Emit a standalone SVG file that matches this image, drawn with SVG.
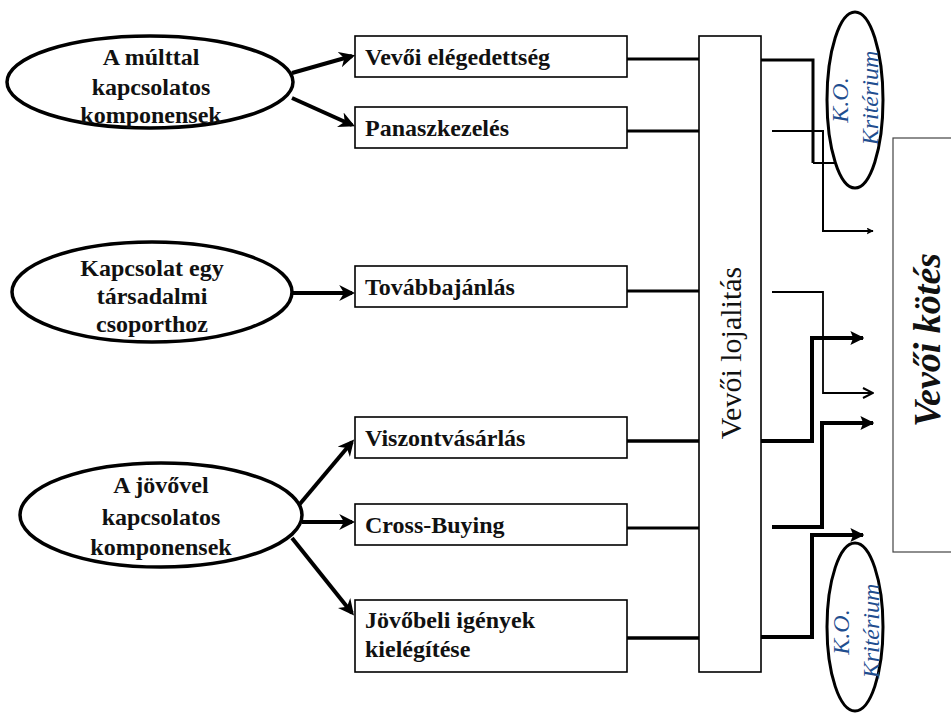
<svg xmlns="http://www.w3.org/2000/svg" width="951" height="716" viewBox="0 0 951 716">
  <style>
    .ell { fill: #fff; stroke: #000; stroke-width: 3.5; }
    .box { fill: #fff; stroke: #000; stroke-width: 1.6; }
    .serif { font-family: "Liberation Serif", "DejaVu Serif", serif; }
    .lbl { font-family: "Liberation Serif", "DejaVu Serif", serif; font-weight: bold; font-size: 24px; fill: #111; }
    .ctr { text-anchor: middle; }
    .ko { font-family: "Liberation Serif", "DejaVu Serif", serif; font-style: italic; font-size: 24px; fill: #1f4e8f; text-anchor: middle; }
    .link { fill: none; stroke: #000; stroke-linejoin: miter; }
  </style>
  <defs>
    <marker id="barb" viewBox="0 0 10 10" refX="8" refY="5" markerWidth="4" markerHeight="4" orient="auto" markerUnits="strokeWidth">
      <path d="M0,0 L10,5 L0,10 L3,5 z" fill="#000"/>
    </marker>
    <marker id="fill" viewBox="0 0 10 10" refX="9" refY="5" markerWidth="3.5" markerHeight="3.5" orient="auto" markerUnits="strokeWidth">
      <path d="M0,0 L10,5 L0,10 L2,5 z" fill="#000"/>
    </marker>
    <marker id="open" viewBox="0 0 12 12" refX="11" refY="6" markerWidth="12" markerHeight="12" orient="auto" markerUnits="userSpaceOnUse">
      <path d="M1,1 L11,6 L1,11" fill="none" stroke="#000" stroke-width="2"/>
    </marker>
  </defs>

  <!-- output block on the right -->
  <g id="vevoi-kotes">
    <rect x="893" y="138" width="80" height="414" fill="#fff" stroke="#444" stroke-width="1.2"/>
    <text class="serif" transform="translate(940,340) rotate(-90)" font-weight="bold" font-style="italic" font-size="38" text-anchor="middle" fill="#111">Vevői kötés</text>
  </g>

  <!-- connectors -->
  <g id="connectors">
    <!-- ellipses to component boxes -->
    <line class="link" stroke-width="4" x1="292" y1="73" x2="352" y2="56" marker-end="url(#barb)"/>
    <line class="link" stroke-width="4" x1="292" y1="98" x2="352" y2="125" marker-end="url(#barb)"/>
    <line class="link" stroke-width="4" x1="292" y1="293" x2="352" y2="293" marker-end="url(#barb)"/>
    <line class="link" stroke-width="4" x1="299" y1="505" x2="352" y2="442" marker-end="url(#barb)"/>
    <line class="link" stroke-width="4" x1="302" y1="522" x2="352" y2="522" marker-end="url(#barb)"/>
    <line class="link" stroke-width="4" x1="292" y1="538" x2="352" y2="613" marker-end="url(#barb)"/>

    <!-- component boxes to loyalty bar -->
    <line class="link" stroke-width="3" x1="627" y1="59" x2="699" y2="59"/>
    <line class="link" stroke-width="3" x1="627" y1="131" x2="699" y2="131"/>
    <line class="link" stroke-width="3" x1="627" y1="291" x2="699" y2="291"/>
    <line class="link" stroke-width="3.5" x1="627" y1="441" x2="699" y2="441"/>
    <line class="link" stroke-width="3" x1="627" y1="528" x2="699" y2="528"/>
    <line class="link" stroke-width="3.5" x1="627" y1="638" x2="699" y2="638"/>

    <!-- loyalty bar to K.O. criterion / customer binding -->
    <path class="link" stroke-width="3" d="M761,60 H813 V163"/>
    <path class="link" stroke-width="2" d="M813,163 H864" marker-end="url(#open)"/>
    <path class="link" stroke-width="2" d="M772,131 H823 V231 H873" marker-end="url(#fill)"/>
    <path class="link" stroke-width="1.8" d="M772,292 H823 V393 H873" marker-end="url(#open)"/>
    <path class="link" stroke-width="4" d="M761,441 H812 V338 H863" marker-end="url(#fill)"/>
    <path class="link" stroke-width="4" d="M772,527 H822 V423 H873" marker-end="url(#fill)"/>
    <path class="link" stroke-width="4" d="M761,637 H812 V535 H863" marker-end="url(#fill)"/>
  </g>

  <!-- source ellipses -->
  <g id="mult">
    <ellipse class="ell" cx="150" cy="82" rx="143" ry="46"/>
    <text class="lbl ctr" x="151" y="65">A múlttal</text>
    <text class="lbl ctr" x="151" y="95">kapcsolatos</text>
    <text class="lbl ctr" x="151" y="123">komponensek</text>
  </g>
  <g id="tarsadalmi">
    <ellipse class="ell" cx="152" cy="292" rx="140" ry="50"/>
    <text class="lbl ctr" x="152" y="276">Kapcsolat egy</text>
    <text class="lbl ctr" x="152" y="304">társadalmi</text>
    <text class="lbl ctr" x="152" y="332">csoporthoz</text>
  </g>
  <g id="jovo">
    <ellipse class="ell" cx="161" cy="515" rx="141" ry="52"/>
    <text class="lbl ctr" x="161" y="493">A jövővel</text>
    <text class="lbl ctr" x="161" y="525">kapcsolatos</text>
    <text class="lbl ctr" x="161" y="555">komponensek</text>
  </g>

  <!-- component boxes -->
  <g id="elegedettseg">
    <rect class="box" x="355" y="36" width="272" height="41"/>
    <text class="lbl" x="365" y="65">Vevői elégedettség</text>
  </g>
  <g id="panaszkezeles">
    <rect class="box" x="355" y="107" width="272" height="41"/>
    <text class="lbl" x="365" y="136">Panaszkezelés</text>
  </g>
  <g id="tovabbajanlas">
    <rect class="box" x="355" y="266" width="272" height="41"/>
    <text class="lbl" x="365" y="295">Továbbajánlás</text>
  </g>
  <g id="viszontvasarlas">
    <rect class="box" x="355" y="417" width="272" height="41"/>
    <text class="lbl" x="365" y="446">Viszontvásárlás</text>
  </g>
  <g id="cross-buying">
    <rect class="box" x="355" y="504" width="272" height="41"/>
    <text class="lbl" x="365" y="533">Cross-Buying</text>
  </g>
  <g id="jovobeli">
    <rect class="box" x="355" y="600" width="272" height="72"/>
    <text class="lbl" x="365" y="628">Jövőbeli igények</text>
    <text class="lbl" x="365" y="657">kielégítése</text>
  </g>

  <!-- loyalty bar -->
  <g id="lojalitas">
    <rect class="box" x="699" y="36" width="62" height="636"/>
    <text class="serif" transform="translate(741,353) rotate(-90)" font-size="30" text-anchor="middle" fill="#111">Vevői lojalitás</text>
  </g>

  <!-- K.O. criteria -->
  <g id="ko-felso">
    <ellipse cx="855" cy="100" rx="28" ry="88" fill="#fff" stroke="#000" stroke-width="3"/>
    <text class="ko" transform="translate(848,100) rotate(-90)">K.O.</text>
    <text class="ko" transform="translate(878,98) rotate(-90)">Kritérium</text>
  </g>
  <g id="ko-also">
    <ellipse cx="855" cy="627" rx="28" ry="84" fill="#fff" stroke="#000" stroke-width="3"/>
    <text class="ko" transform="translate(849,632) rotate(-90)">K.O.</text>
    <text class="ko" transform="translate(879,631) rotate(-90)">Kritérium</text>
  </g>
</svg>
